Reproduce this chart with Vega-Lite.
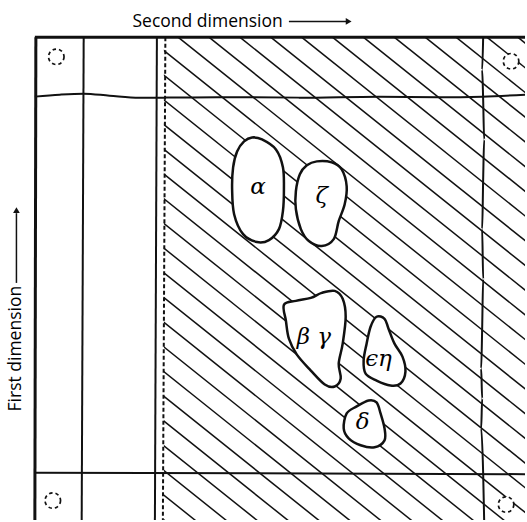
{
  "$schema": "https://vega.github.io/schema/vega-lite/v6.json",
  "width": 527,
  "height": 522,
  "padding": 0,
  "autosize": {"type": "fit", "contains": "padding"},
  "background": "white",
  "config": {"view": {"stroke": null}},
  "datasets": {
    "hatch": [
      {"x": -441, "y": 37.5, "x2": 179, "y2": 533.5},
      {"x": -410, "y": 37.5, "x2": 210, "y2": 533.5},
      {"x": -379, "y": 37.5, "x2": 241, "y2": 533.5},
      {"x": -348, "y": 37.5, "x2": 272, "y2": 533.5},
      {"x": -317, "y": 37.5, "x2": 303, "y2": 533.5},
      {"x": -286, "y": 37.5, "x2": 334, "y2": 533.5},
      {"x": -255, "y": 37.5, "x2": 365, "y2": 533.5},
      {"x": -224, "y": 37.5, "x2": 396, "y2": 533.5},
      {"x": -193, "y": 37.5, "x2": 427, "y2": 533.5},
      {"x": -162, "y": 37.5, "x2": 458, "y2": 533.5},
      {"x": -131, "y": 37.5, "x2": 489, "y2": 533.5},
      {"x": -100, "y": 37.5, "x2": 520, "y2": 533.5},
      {"x": -69, "y": 37.5, "x2": 551, "y2": 533.5},
      {"x": -38, "y": 37.5, "x2": 582, "y2": 533.5},
      {"x": -7, "y": 37.5, "x2": 613, "y2": 533.5},
      {"x": 24, "y": 37.5, "x2": 644, "y2": 533.5},
      {"x": 55, "y": 37.5, "x2": 675, "y2": 533.5},
      {"x": 86, "y": 37.5, "x2": 706, "y2": 533.5},
      {"x": 117, "y": 37.5, "x2": 737, "y2": 533.5},
      {"x": 148, "y": 37.5, "x2": 768, "y2": 533.5},
      {"x": 179, "y": 37.5, "x2": 799, "y2": 533.5},
      {"x": 210, "y": 37.5, "x2": 830, "y2": 533.5},
      {"x": 241, "y": 37.5, "x2": 861, "y2": 533.5},
      {"x": 272, "y": 37.5, "x2": 892, "y2": 533.5},
      {"x": 303, "y": 37.5, "x2": 923, "y2": 533.5},
      {"x": 334, "y": 37.5, "x2": 954, "y2": 533.5},
      {"x": 365, "y": 37.5, "x2": 985, "y2": 533.5},
      {"x": 396, "y": 37.5, "x2": 1016, "y2": 533.5},
      {"x": 427, "y": 37.5, "x2": 1047, "y2": 533.5},
      {"x": 458, "y": 37.5, "x2": 1078, "y2": 533.5},
      {"x": 489, "y": 37.5, "x2": 1109, "y2": 533.5},
      {"x": 520, "y": 37.5, "x2": 1140, "y2": 533.5}
    ],
    "blank": [{"x": 0, "y": 0, "x2": 164.5, "y2": 522}],
    "borders": [
      {"x": 35, "y": 37.5, "x2": 527, "y2": 37.5},
      {"x": 36, "y": 37.5, "x2": 35, "y2": 522}
    ],
    "inner": [
      {"x": 84, "y": 37.5, "x2": 82, "y2": 522},
      {"x": 157.5, "y": 37.5, "x2": 155.5, "y2": 522},
      {"x": 35, "y": 474.5, "x2": 527, "y2": 476}
    ],
    "dashed": [{"x": 166, "y": 37.5, "x2": 163.5, "y2": 522}],
    "wavy": [
      {"id": "h", "o": 1, "x": 35, "y": 97},
      {"id": "h", "o": 2, "x": 60, "y": 95},
      {"id": "h", "o": 3, "x": 84, "y": 94},
      {"id": "h", "o": 4, "x": 110, "y": 96},
      {"id": "h", "o": 5, "x": 140, "y": 98},
      {"id": "h", "o": 6, "x": 165, "y": 98},
      {"id": "h", "o": 7, "x": 220, "y": 97.5},
      {"id": "h", "o": 8, "x": 300, "y": 98},
      {"id": "h", "o": 9, "x": 380, "y": 97},
      {"id": "h", "o": 10, "x": 440, "y": 97.5},
      {"id": "h", "o": 11, "x": 484, "y": 97},
      {"id": "h", "o": 12, "x": 527, "y": 95},
      {"id": "v", "o": 1, "x": 485, "y": 37.5},
      {"id": "v", "o": 2, "x": 484, "y": 70},
      {"id": "v", "o": 3, "x": 485, "y": 100},
      {"id": "v", "o": 4, "x": 486, "y": 140},
      {"id": "v", "o": 5, "x": 485, "y": 180},
      {"id": "v", "o": 6, "x": 484, "y": 230},
      {"id": "v", "o": 7, "x": 485, "y": 280},
      {"id": "v", "o": 8, "x": 484, "y": 330},
      {"id": "v", "o": 9, "x": 483, "y": 370},
      {"id": "v", "o": 10, "x": 484, "y": 400},
      {"id": "v", "o": 11, "x": 483, "y": 430},
      {"id": "v", "o": 12, "x": 485, "y": 475},
      {"id": "v", "o": 13, "x": 486, "y": 522}
    ],
    "blobs": [
      {"id": "a", "o": 1, "x": 253, "y": 138},
      {"id": "a", "o": 2, "x": 263, "y": 140},
      {"id": "a", "o": 3, "x": 277, "y": 150},
      {"id": "a", "o": 4, "x": 284, "y": 168},
      {"id": "a", "o": 5, "x": 285, "y": 190},
      {"id": "a", "o": 6, "x": 284, "y": 212},
      {"id": "a", "o": 7, "x": 280, "y": 230},
      {"id": "a", "o": 8, "x": 270, "y": 241},
      {"id": "a", "o": 9, "x": 258, "y": 243},
      {"id": "a", "o": 10, "x": 244, "y": 235},
      {"id": "a", "o": 11, "x": 235, "y": 215},
      {"id": "a", "o": 12, "x": 233, "y": 190},
      {"id": "a", "o": 13, "x": 234, "y": 168},
      {"id": "a", "o": 14, "x": 238, "y": 152},
      {"id": "a", "o": 15, "x": 245, "y": 142},
      {"id": "z", "o": 1, "x": 318, "y": 162},
      {"id": "z", "o": 2, "x": 333, "y": 163},
      {"id": "z", "o": 3, "x": 343, "y": 170},
      {"id": "z", "o": 4, "x": 348, "y": 187},
      {"id": "z", "o": 5, "x": 346, "y": 205},
      {"id": "z", "o": 6, "x": 340, "y": 222},
      {"id": "z", "o": 7, "x": 335, "y": 240},
      {"id": "z", "o": 8, "x": 323, "y": 247},
      {"id": "z", "o": 9, "x": 310, "y": 242},
      {"id": "z", "o": 10, "x": 302, "y": 230},
      {"id": "z", "o": 11, "x": 297, "y": 210},
      {"id": "z", "o": 12, "x": 297, "y": 192},
      {"id": "z", "o": 13, "x": 301, "y": 175},
      {"id": "z", "o": 14, "x": 308, "y": 166},
      {"id": "bg", "o": 1, "x": 285, "y": 306},
      {"id": "bg", "o": 2, "x": 297, "y": 302},
      {"id": "bg", "o": 3, "x": 312, "y": 299},
      {"id": "bg", "o": 4, "x": 323, "y": 294},
      {"id": "bg", "o": 5, "x": 336, "y": 292},
      {"id": "bg", "o": 6, "x": 344, "y": 300},
      {"id": "bg", "o": 7, "x": 347, "y": 318},
      {"id": "bg", "o": 8, "x": 344, "y": 345},
      {"id": "bg", "o": 9, "x": 340, "y": 365},
      {"id": "bg", "o": 10, "x": 342, "y": 380},
      {"id": "bg", "o": 11, "x": 336, "y": 388},
      {"id": "bg", "o": 12, "x": 326, "y": 386},
      {"id": "bg", "o": 13, "x": 312, "y": 372},
      {"id": "bg", "o": 14, "x": 298, "y": 356},
      {"id": "bg", "o": 15, "x": 290, "y": 340},
      {"id": "bg", "o": 16, "x": 287, "y": 322},
      {"id": "eh", "o": 1, "x": 378, "y": 318},
      {"id": "eh", "o": 2, "x": 386, "y": 320},
      {"id": "eh", "o": 3, "x": 390, "y": 330},
      {"id": "eh", "o": 4, "x": 396, "y": 345},
      {"id": "eh", "o": 5, "x": 404, "y": 358},
      {"id": "eh", "o": 6, "x": 407, "y": 373},
      {"id": "eh", "o": 7, "x": 402, "y": 385},
      {"id": "eh", "o": 8, "x": 392, "y": 387},
      {"id": "eh", "o": 9, "x": 378, "y": 382},
      {"id": "eh", "o": 10, "x": 367, "y": 375},
      {"id": "eh", "o": 11, "x": 365, "y": 362},
      {"id": "eh", "o": 12, "x": 368, "y": 345},
      {"id": "eh", "o": 13, "x": 372, "y": 328},
      {"id": "d", "o": 1, "x": 370, "y": 402},
      {"id": "d", "o": 2, "x": 378, "y": 404},
      {"id": "d", "o": 3, "x": 382, "y": 415},
      {"id": "d", "o": 4, "x": 386, "y": 430},
      {"id": "d", "o": 5, "x": 386, "y": 442},
      {"id": "d", "o": 6, "x": 376, "y": 449},
      {"id": "d", "o": 7, "x": 362, "y": 447},
      {"id": "d", "o": 8, "x": 350, "y": 440},
      {"id": "d", "o": 9, "x": 345, "y": 430},
      {"id": "d", "o": 10, "x": 348, "y": 415},
      {"id": "d", "o": 11, "x": 358, "y": 408}
    ],
    "origins": [
      {"x": 56.5, "y": 57},
      {"x": 53, "y": 502.5},
      {"x": 513, "y": 61.5},
      {"x": 508, "y": 506.5}
    ],
    "greek": [
      {"x": 259, "y": 188, "t": "α"},
      {"x": 323, "y": 197, "t": "ζ"},
      {"x": 315, "y": 338, "t": "β γ"},
      {"x": 380, "y": 360, "t": "ϵη"},
      {"x": 364, "y": 424, "t": "δ"}
    ],
    "labels": [{"x": 133, "y": 27, "t": "Second dimension"}],
    "vlabels": [{"x": 21.5, "y": 350, "t": "First dimension"}],
    "arrows": [
      {"x": 290, "y": 21.5, "x2": 348, "y2": 21.5},
      {"x": 16.5, "y": 284, "x2": 16.5, "y2": 214}
    ],
    "heads": [
      {"x": 350, "y": 21.5, "s": "triangle-right"},
      {"x": 16.5, "y": 211, "s": "triangle-up"}
    ]
  },
  "encoding": {
    "x": {"field": "x", "type": "quantitative", "scale": {"domain": [0, 527], "nice": false, "zero": false}, "axis": null},
    "y": {"field": "y", "type": "quantitative", "scale": {"domain": [0, 522], "nice": false, "zero": false, "reverse": true}, "axis": null}
  },
  "layer": [
    {
      "data": {"name": "hatch"},
      "mark": {"type": "rule", "clip": true, "color": "#111", "strokeWidth": 1.5},
      "encoding": {"x2": {"field": "x2"}, "y2": {"field": "y2"}}
    },
    {
      "data": {"name": "blank"},
      "mark": {"type": "rect", "fill": "white", "clip": true},
      "encoding": {"x2": {"field": "x2"}, "y2": {"field": "y2"}}
    },
    {
      "data": {"name": "borders"},
      "mark": {"type": "rule", "color": "#111", "strokeWidth": 3},
      "encoding": {"x2": {"field": "x2"}, "y2": {"field": "y2"}}
    },
    {
      "data": {"name": "inner"},
      "mark": {"type": "rule", "color": "#111", "strokeWidth": 2},
      "encoding": {"x2": {"field": "x2"}, "y2": {"field": "y2"}}
    },
    {
      "data": {"name": "dashed"},
      "mark": {"type": "rule", "color": "#111", "strokeWidth": 2, "strokeDash": [4, 2.5]},
      "encoding": {"x2": {"field": "x2"}, "y2": {"field": "y2"}}
    },
    {
      "data": {"name": "wavy"},
      "mark": {"type": "line", "color": "#111", "strokeWidth": 2, "interpolate": "monotone", "clip": true},
      "encoding": {"detail": {"field": "id"}, "order": {"field": "o", "type": "quantitative"}}
    },
    {
      "data": {"name": "blobs"},
      "mark": {"type": "line", "stroke": "#111", "fill": "white", "strokeWidth": 2.5, "interpolate": "cardinal-closed"},
      "encoding": {"detail": {"field": "id"}, "order": {"field": "o", "type": "quantitative"}}
    },
    {
      "data": {"name": "origins"},
      "mark": {"type": "point", "shape": "circle", "size": 240, "stroke": "#111", "fill": "white", "filled": false, "fillOpacity": 1, "opacity": 1, "strokeWidth": 1.7, "strokeDash": [3.5, 3], "clip": true},
      "encoding": {}
    },
    {
      "data": {"name": "greek"},
      "mark": {"type": "text", "font": "DejaVu Serif", "fontStyle": "italic", "fontSize": 23, "color": "#000", "baseline": "middle", "align": "center"},
      "encoding": {"text": {"field": "t"}}
    },
    {
      "data": {"name": "labels"},
      "mark": {"type": "text", "font": "Open Sans", "fontSize": 17.5, "fontWeight": 500, "color": "#000", "baseline": "alphabetic", "align": "left"},
      "encoding": {"text": {"field": "t"}}
    },
    {
      "data": {"name": "vlabels"},
      "mark": {"type": "text", "font": "Open Sans", "fontSize": 17.5, "fontWeight": 500, "color": "#000", "baseline": "alphabetic", "align": "center", "angle": 270},
      "encoding": {"text": {"field": "t"}}
    },
    {
      "data": {"name": "arrows"},
      "mark": {"type": "rule", "color": "#111", "strokeWidth": 1.5},
      "encoding": {"x2": {"field": "x2"}, "y2": {"field": "y2"}}
    },
    {
      "data": {"name": "heads"},
      "mark": {"type": "point", "filled": true, "color": "#111", "size": 45, "opacity": 1},
      "encoding": {"shape": {"field": "s", "type": "nominal", "scale": null, "legend": null}}
    }
  ]
}
